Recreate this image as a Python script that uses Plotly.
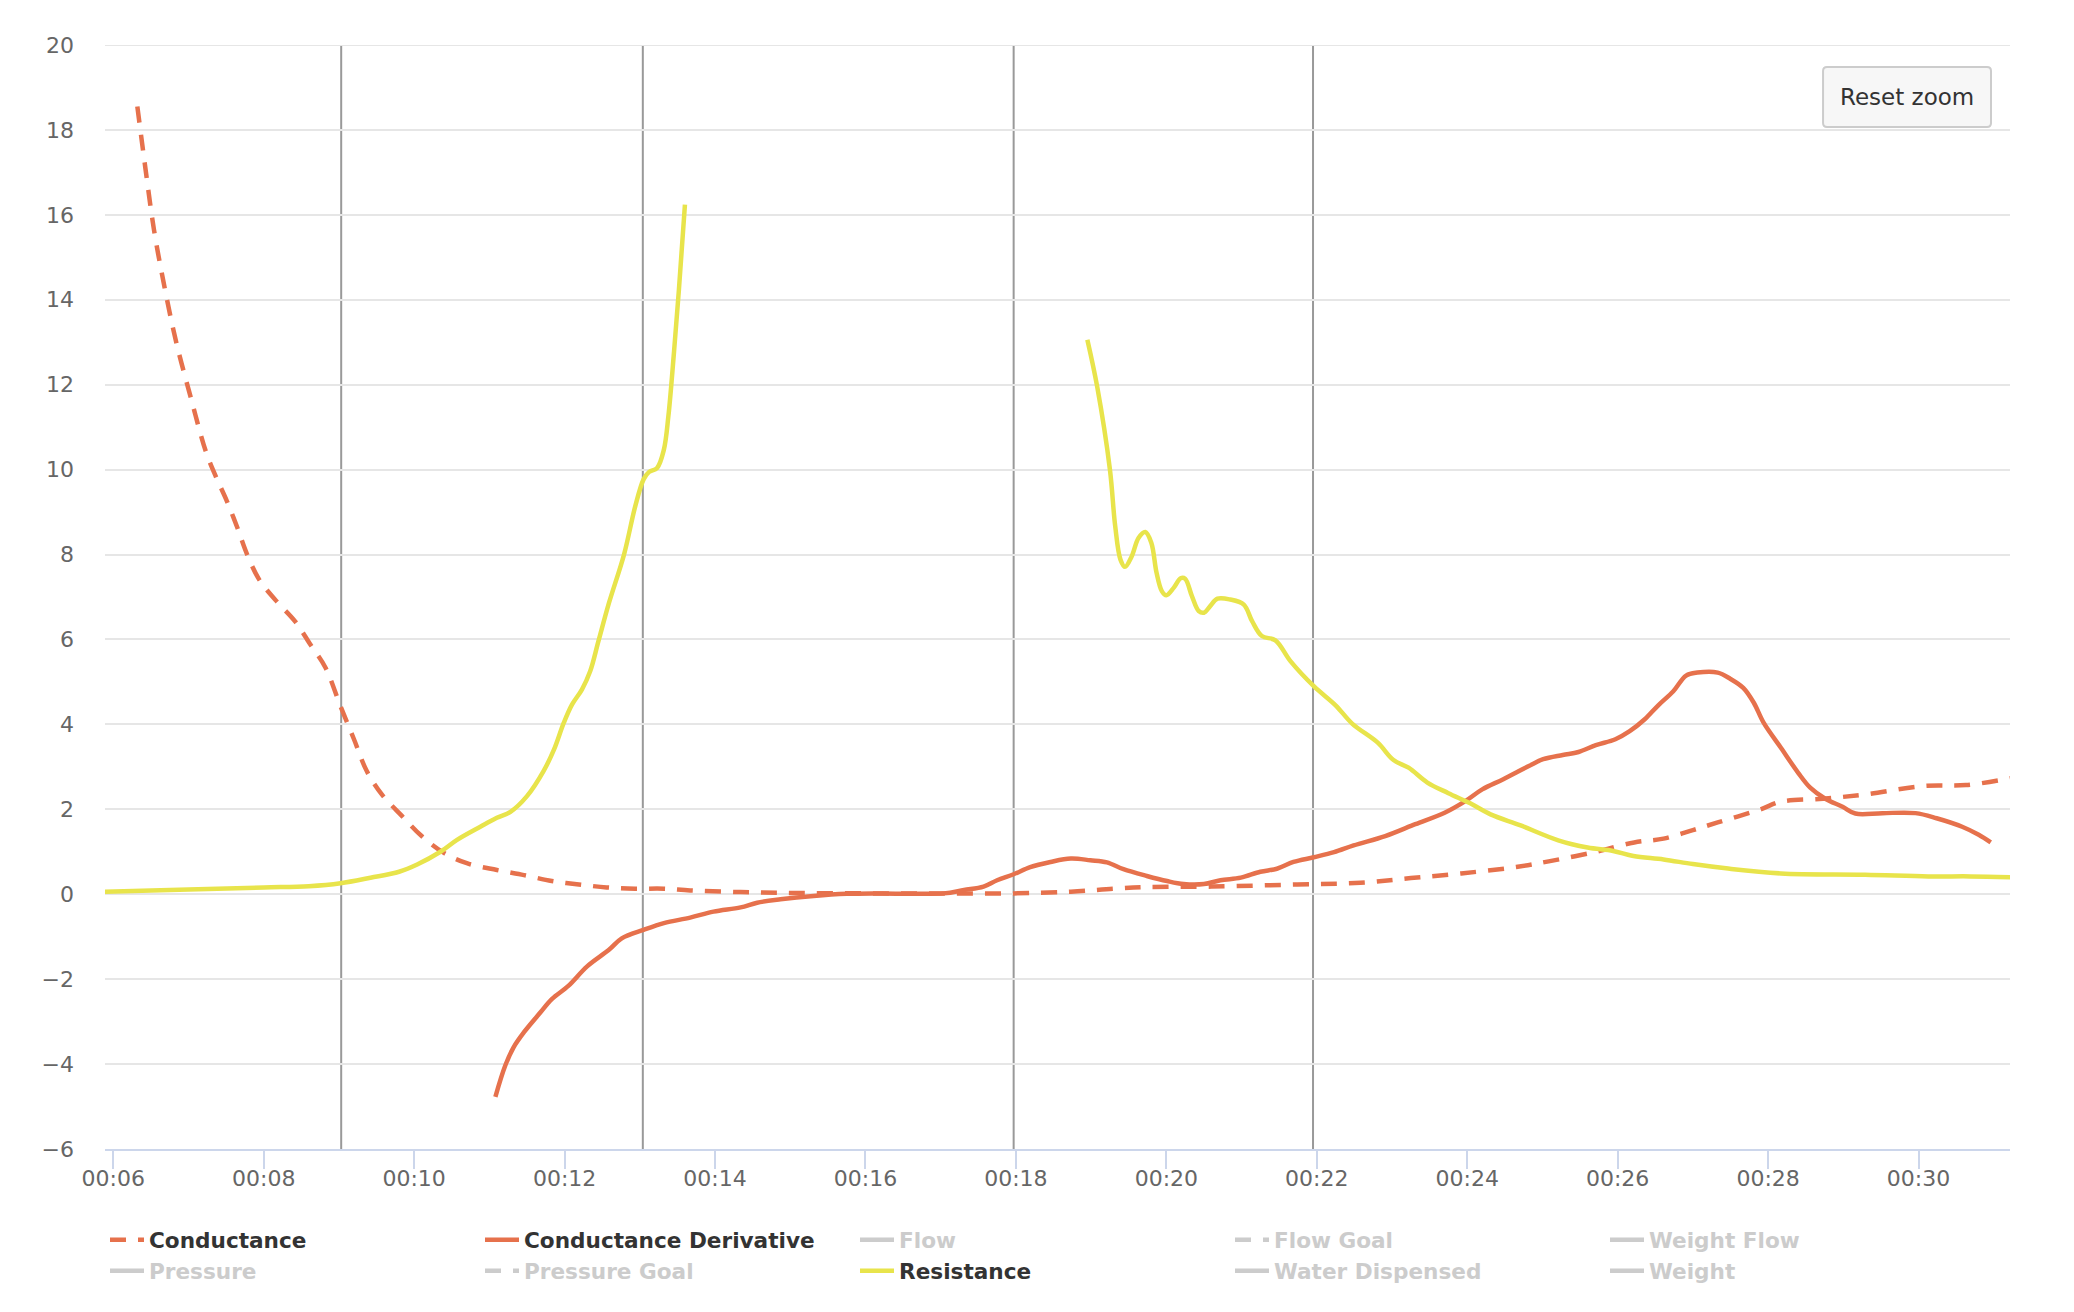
import plotly.graph_objects as go

# Values, x in seconds
conductance_t = [6.32, 6.43, 6.54, 6.67, 6.83, 7.03, 7.23, 7.36, 7.51, 7.65, 7.78, 7.94, 8.16, 8.42, 8.62, 8.82,
                 9.02, 9.2, 9.37, 9.57, 9.84, 10.1, 10.39, 10.7, 11.1, 11.46, 11.83, 12.19, 12.56, 12.94, 13.32,
                 13.67, 14.34, 15, 16, 17, 17.97, 18.73, 19.3, 19.74, 20.6, 21.74, 22.58, 23.25, 23.92, 24.65,
                 25.1, 25.71, 26.22, 26.61, 27.0, 27.33, 27.9, 28.17, 28.73, 29.29, 30.07, 30.63, 31.22]
conductance_v = [18.55, 17.06, 15.66, 14.4, 13.05, 11.7, 10.43, 9.85, 9.26, 8.63, 8.0, 7.41, 6.92, 6.42, 5.88, 5.34,
                 4.43, 3.65, 2.9, 2.35, 1.84, 1.37, 0.98, 0.73, 0.57, 0.45, 0.31, 0.23, 0.16, 0.13, 0.13,
                 0.09, 0.05, 0.03, 0.02, 0.02, 0.02, 0.06, 0.13, 0.17, 0.18, 0.23, 0.27, 0.38, 0.49, 0.64,
                 0.78, 1.0, 1.22, 1.31, 1.51, 1.69, 2.0, 2.18, 2.25, 2.35, 2.55, 2.57, 2.73]

derivative_t = [11.08, 11.21, 11.32, 11.46, 11.68, 11.83, 12.05, 12.3, 12.59, 12.76, 13.05, 13.32, 13.67, 13.98,
                14.34, 14.56, 14.87, 15.31, 15.75, 16.2, 17.04, 17.31, 17.57, 17.75, 17.97, 18.19, 18.46, 18.73,
                18.99, 19.21, 19.43, 19.74, 20.01, 20.23, 20.5, 20.72, 20.99, 21.25, 21.47, 21.69, 21.96, 22.23,
                22.49, 22.91, 23.31, 23.7, 23.98, 24.2, 24.48, 24.82, 25.01, 25.27, 25.48, 25.71, 25.97, 26.16,
                26.36, 26.54, 26.74, 26.91, 27.06, 27.33, 27.5, 27.67, 27.81, 27.94, 28.17, 28.4, 28.56, 28.76,
                28.99, 29.16, 29.52, 29.96, 30.24, 30.58, 30.8, 30.96]
derivative_v = [-4.77, -4.04, -3.61, -3.25, -2.78, -2.47, -2.16, -1.7, -1.31, -1.04, -0.84, -0.68, -0.55, -0.41,
                -0.31, -0.2, -0.12, -0.04, 0.01, 0.02, 0.02, 0.1, 0.18, 0.33, 0.47, 0.64, 0.76, 0.84,
                0.8, 0.75, 0.59, 0.43, 0.31, 0.24, 0.24, 0.33, 0.39, 0.53, 0.6, 0.76, 0.87, 0.99,
                1.15, 1.37, 1.65, 1.92, 2.2, 2.47, 2.71, 3.02, 3.18, 3.28, 3.35, 3.51, 3.65, 3.84,
                4.12, 4.45, 4.78, 5.15, 5.22, 5.22, 5.07, 4.86, 4.51, 4.04, 3.45, 2.86, 2.51, 2.25,
                2.06, 1.9, 1.91, 1.91, 1.79, 1.59, 1.4, 1.22]

# Resistance has a gap between the two parts
resistance_t1 = [5.89, 7, 8, 8.6, 9.02, 9.42, 9.8, 10.04, 10.35, 10.57, 10.88, 11.1, 11.28, 11.5, 11.72, 11.86,
                 11.99, 12.1, 12.23, 12.34, 12.45, 12.59, 12.79, 12.94, 13.05, 13.12, 13.23, 13.32, 13.38, 13.45,
                 13.52, 13.6]
resistance_v1 = [0.06, 0.11, 0.16, 0.19, 0.26, 0.39, 0.53, 0.7, 1.0, 1.28, 1.59, 1.8, 1.94, 2.31, 2.9, 3.41,
                 4.04, 4.47, 4.82, 5.25, 5.96, 6.86, 8.0, 9.14, 9.77, 9.94, 10.04, 10.47, 11.26, 12.67,
                 14.24, 16.24]
resistance_t2 = [18.95, 19.08, 19.25, 19.32, 19.39, 19.45, 19.54, 19.63, 19.72, 19.8, 19.87, 19.94, 20.0, 20.1,
                 20.19, 20.25, 20.34, 20.43, 20.5, 20.58, 20.68, 20.85, 21.03, 21.14, 21.27, 21.45, 21.65, 21.96,
                 22.25, 22.47, 22.81, 23.02, 23.22, 23.47, 23.75, 24.04, 24.31, 24.71, 25.21, 25.6, 25.94, 26.21,
                 26.61, 27.0, 27.44, 28.17, 29.29, 30.13, 30.69, 31.22]
resistance_v2 = [13.06, 11.96, 10.0, 8.67, 7.88, 7.71, 7.96, 8.39, 8.53, 8.28, 7.57, 7.14, 7.04, 7.22,
                 7.44, 7.43, 7.02, 6.67, 6.63, 6.78, 6.96, 6.94, 6.82, 6.43, 6.08, 5.98, 5.49, 4.9,
                 4.45, 4.02, 3.57, 3.16, 2.98, 2.63, 2.38, 2.14, 1.88, 1.62, 1.27, 1.1, 1.02, 0.9,
                 0.82, 0.71, 0.61, 0.49, 0.46, 0.42, 0.42, 0.4]

plot_lines = [9.03, 13.04, 17.97, 21.95]
x_ticks = list(range(6, 31, 2))
x_labels = ["00:%02d" % s for s in x_ticks]
y_ticks = list(range(-6, 21, 2))

ORANGE = "#e6714c"
YELLOW = "#e8e44b"
GREY = "#cccccc"
FONT = "DejaVu Sans"
LINE_W = 4.5

fig = go.Figure()

# Legend order runs along the rows
fig.add_trace(go.Scatter(x=conductance_t, y=conductance_v, mode="lines", name="Conductance",
                         line=dict(color=ORANGE, width=LINE_W, dash="16px,12px", shape="spline", smoothing=1)))
fig.add_trace(go.Scatter(x=derivative_t, y=derivative_v, mode="lines", name="Conductance Derivative",
                         line=dict(color=ORANGE, width=LINE_W, shape="spline", smoothing=1)))


def hidden_series(name, dash=None):
    # switched-off series: only the grey legend entry is left
    fig.add_trace(go.Scatter(x=[None], y=[None], mode="lines",
                             name="<span style='color:%s'>%s</span>" % (GREY, name),
                             line=dict(color=GREY, width=LINE_W, dash=dash)))


hidden_series("Flow")
hidden_series("Flow Goal", "16px,12px")
hidden_series("Weight Flow")
hidden_series("Pressure")
hidden_series("Pressure Goal", "16px,12px")

fig.add_trace(go.Scatter(x=resistance_t1 + [None] + resistance_t2, y=resistance_v1 + [None] + resistance_v2,
                         mode="lines", name="Resistance",
                         line=dict(color=YELLOW, width=LINE_W, shape="spline", smoothing=1)))

hidden_series("Water Dispensed")
hidden_series("Weight")

for x in plot_lines:
    fig.add_shape(type="line", x0=x, x1=x, y0=0, y1=1, xref="x", yref="paper",
                  line=dict(color="#999999", width=2), layer="between")

# plotly leaves out the gridline on the very top of the range
fig.add_shape(type="line", x0=0, x1=1, y0=y_ticks[-1], y1=y_ticks[-1], xref="paper", yref="y",
              line=dict(color="#e6e6e6", width=2), layer="below")

# Page pixels of the plot area; the page body adds 8px on the left and top
L, R, T, B = 104.5, 2010.0, 45.0, 1149.0
def px(x): return (x - L) / (R - L)
def py(y): return (B - y) / (B - T)
# Reset zoom button, rounded box
x0, x1, y0, y1, r = 1823, 1991, 67, 127, 4
path = ("M %f,%f L %f,%f Q %f,%f %f,%f L %f,%f Q %f,%f %f,%f L %f,%f Q %f,%f %f,%f L %f,%f Q %f,%f %f,%f Z" % (
    px(x0 + r), py(y0), px(x1 - r), py(y0), px(x1), py(y0), px(x1), py(y0 + r),
    px(x1), py(y1 - r), px(x1), py(y1), px(x1 - r), py(y1),
    px(x0 + r), py(y1), px(x0), py(y1), px(x0), py(y1 - r),
    px(x0), py(y0 + r), px(x0), py(y0), px(x0 + r), py(y0)))
fig.add_shape(type="path", path=path, xref="paper", yref="paper",
              fillcolor="#f7f7f7", line=dict(color="#cccccc", width=2), layer="above")
fig.add_annotation(text="Reset zoom", x=px((x0 + x1) / 2), y=py((y0 + y1) / 2), xref="paper", yref="paper",
                   xanchor="center", yanchor="middle", showarrow=False,
                   font=dict(family=FONT, size=23, color="#333333"))

fig.update_layout(
    width=2066,
    height=1304,
    margin=dict(l=L - 8, r=2074 - R, t=T - 8, b=1312 - B, autoexpand=False),
    paper_bgcolor="white",
    plot_bgcolor="white",
    font=dict(family=FONT, size=22, color="#666666"),
    legend=dict(orientation="h", x=0, y=-0.0635, xanchor="left", yanchor="top",
                entrywidth=326, entrywidthmode="pixels", itemwidth=34, tracegroupgap=0,
                font=dict(family=FONT, size=21.6, color="#333333", weight="bold")),
)
fig.update_xaxes(range=[5.89, 31.216], tickmode="array", tickvals=x_ticks, ticktext=x_labels,
                 showgrid=False, zeroline=False, showline=True, linecolor="#ccd6eb", linewidth=2,
                 ticks="outside", ticklen=18, tickwidth=2, tickcolor="#ccd6eb", ticklabelstandoff=-9,
                 tickfont=dict(family=FONT, size=22, color="#666666"))
fig.update_yaxes(range=[-6, 20], tickmode="array", tickvals=y_ticks, showgrid=True, gridcolor="#e6e6e6",
                 gridwidth=2, zeroline=False, showline=False, ticks="", ticklabelstandoff=30,
                 tickfont=dict(family=FONT, size=22, color="#666666"))

fig.write_html("out.html")
